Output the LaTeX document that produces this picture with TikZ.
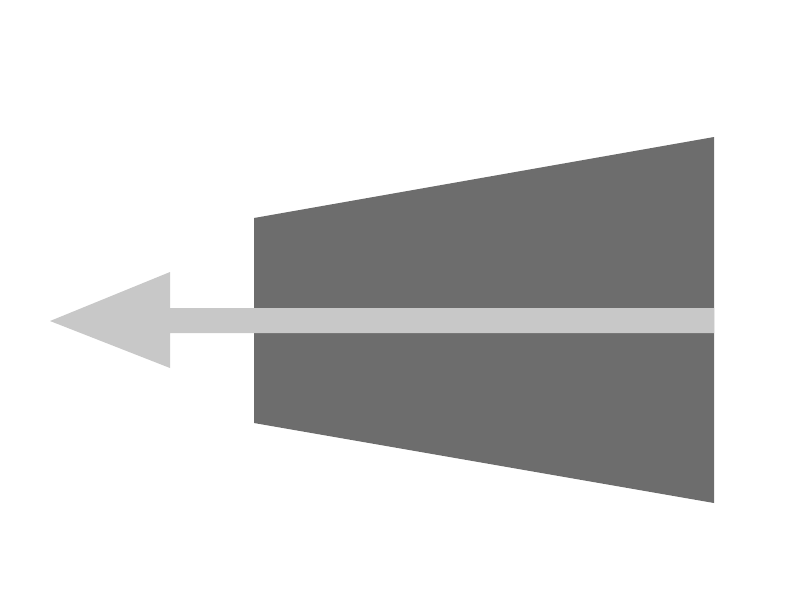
\documentclass[tikz,border=0pt]{standalone}
\usepackage{tikz}
\usetikzlibrary{calc, positioning}
\definecolor{bodygray}{HTML}{6D6D6D}
\definecolor{arrowgray}{HTML}{C8C8C8}
\begin{document}
\begin{tikzpicture}[
			x=0.02cm, y=-0.02cm,
			trapez/.style={fill=bodygray, draw=none},
			shaft/.style={fill=arrowgray, draw=none}
		]
		\useasboundingbox (0,0) rectangle (800,600);
		% trapezoid body
		\coordinate (tl) at (254,218);
		\coordinate (bl) at (254,423);
		\coordinate (tr) at (714,137);
		\coordinate (br) at (714,503);
		\fill[trapez] (tl) -- (tr) -- (br) -- (bl) -- cycle;

		% arrow pointing left
		\coordinate (tip) at (50,321);
		\fill[shaft] (tip) -- (170,272) -- (170,308) -- (714,308)
			-- (714,333) -- (170,333) -- (170,368) -- cycle;
	\end{tikzpicture}
\end{document}
